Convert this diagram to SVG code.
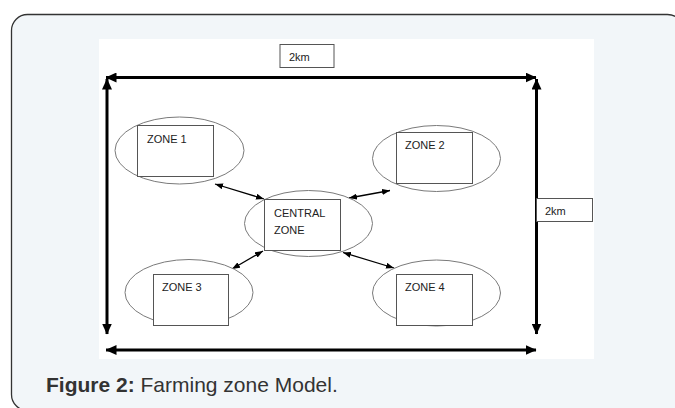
<svg xmlns="http://www.w3.org/2000/svg" width="675" height="408" viewBox="0 0 675 408">
<defs>
<style>
.zone ellipse{fill:#fff;stroke:#7a7a7a;stroke-width:1}
.zone rect{fill:#fff;stroke:#555;stroke-width:1}
.lbl{font-family:"Liberation Sans",Arial,sans-serif;font-size:11px;fill:#222}
.thick{stroke:#000;stroke-width:3;fill:none;marker-start:url(#bigHead);marker-end:url(#bigHead)}
.thin{stroke:#000;stroke-width:1.3;fill:none;marker-start:url(#smallHead);marker-end:url(#smallHead)}
.cap{font-family:"Liberation Sans",Arial,sans-serif;font-size:21px;fill:#333}
</style>
<marker id="bigHead" markerUnits="userSpaceOnUse" viewBox="0 0 11 10" refX="10.5" refY="5" markerWidth="11" markerHeight="10" orient="auto-start-reverse">
<path d="M0,0 L11,5 L0,10 z" fill="#000"/>
</marker>
<marker id="smallHead" markerUnits="userSpaceOnUse" viewBox="0 0 8 6" refX="8" refY="3" markerWidth="8" markerHeight="6" orient="auto-start-reverse">
<path d="M0,0 L8,3 L0,6 z" fill="#000"/>
</marker>
</defs>
<rect x="11.5" y="14.5" width="672" height="396" rx="16" fill="#f2f6f9" stroke="#333" stroke-width="1.3"/>
<rect x="99" y="39" width="495" height="320" fill="#fff"/>

<g id="connectors">
<line class="thick" x1="106" y1="77.5" x2="536" y2="77.5"/>
<line class="thick" x1="107" y1="79" x2="107" y2="334"/>
<line class="thick" x1="536.5" y1="79" x2="536.5" y2="334"/>
<line class="thick" x1="106" y1="350" x2="536" y2="350"/>
<line class="thin" x1="215" y1="184" x2="264" y2="199"/>
<line class="thin" x1="349" y1="198" x2="390" y2="190.5"/>
<line class="thin" x1="263" y1="251" x2="232" y2="269"/>
<line class="thin" x1="343" y1="252.5" x2="394" y2="268"/>
</g>

<g id="dim-top">
<rect x="280" y="44.5" width="54" height="23" fill="#fff" stroke="#555" stroke-width="1"/>
<text class="lbl" x="289" y="61">2km</text>
</g>
<g id="dim-right">
<rect x="536.5" y="198.5" width="56" height="23" fill="#fff" stroke="#555" stroke-width="1"/>
<text class="lbl" x="545" y="215">2km</text>
</g>

<g id="zone1" class="zone">
<ellipse cx="179.5" cy="150.5" rx="64.5" ry="33.5"/>
<rect x="137.5" y="125.5" width="76" height="51"/>
<text class="lbl" x="147" y="143">ZONE 1</text>
</g>
<g id="zone2" class="zone">
<ellipse cx="436.5" cy="158.5" rx="64" ry="33"/>
<rect x="396.5" y="132.5" width="76" height="51"/>
<text class="lbl" x="405" y="149">ZONE 2</text>
</g>
<g id="central" class="zone">
<ellipse cx="308.5" cy="223.5" rx="64" ry="33"/>
<rect x="264.5" y="199.5" width="76" height="51"/>
<text class="lbl" x="274" y="217">CENTRAL</text>
<text class="lbl" x="274" y="234">ZONE</text>
</g>
<g id="zone3" class="zone">
<ellipse cx="189" cy="292.5" rx="64" ry="33"/>
<rect x="153.5" y="274.5" width="75" height="51"/>
<text class="lbl" x="162" y="291">ZONE 3</text>
</g>
<g id="zone4" class="zone">
<ellipse cx="436.5" cy="293" rx="64" ry="33"/>
<rect x="396.5" y="274.5" width="76" height="51"/>
<text class="lbl" x="405" y="291">ZONE 4</text>
</g>

<text class="cap" x="46" y="392"><tspan font-weight="bold">Figure 2:</tspan> Farming zone Model.</text>
</svg>
